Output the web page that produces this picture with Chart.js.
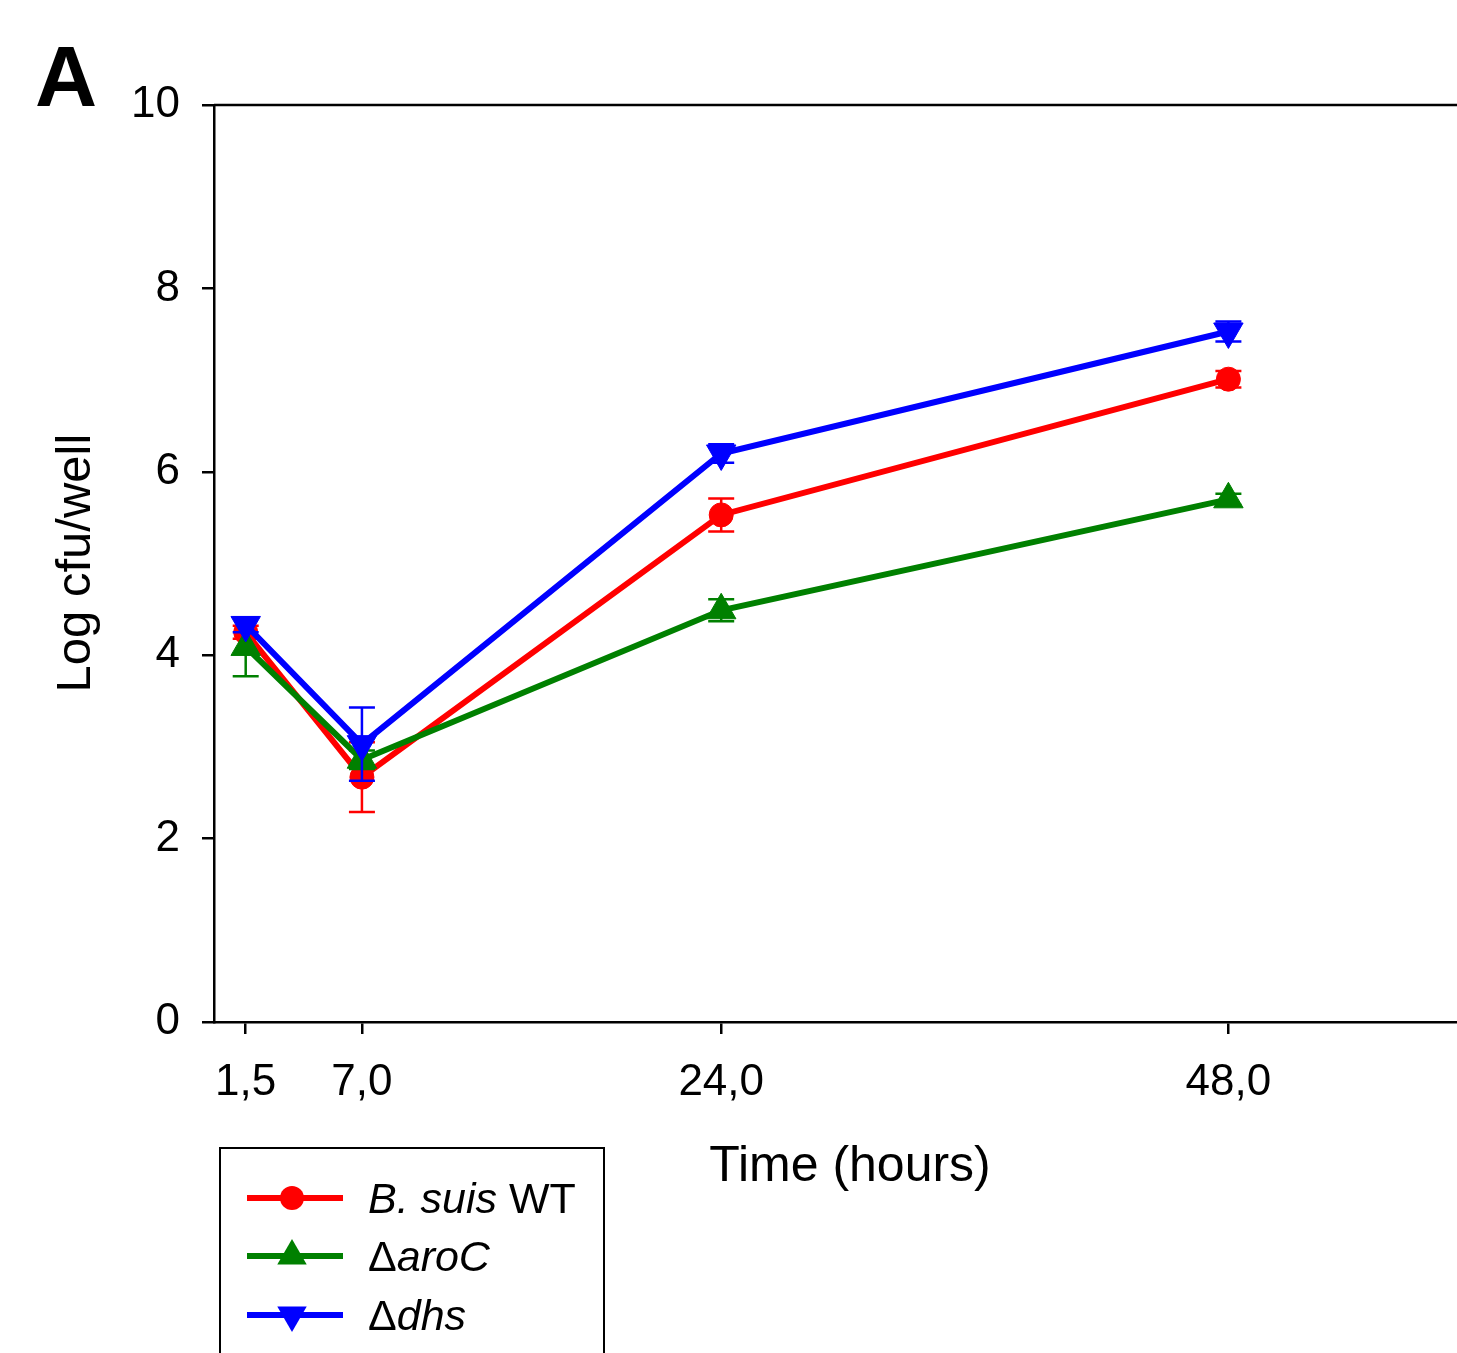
<!DOCTYPE html>
<html>
<head>
<meta charset="utf-8">
<script src="https://cdn.jsdelivr.net/npm/chart.js@4/dist/chart.umd.min.js"></script>
<style>
  html, body { margin: 0; padding: 0; background: #fff; overflow: hidden; }
  #wrap { position: relative; width: 1500px; height: 1353px; }
  canvas { display: block; }
</style>
</head>
<body>
<div id="wrap"><canvas id="c" width="1500" height="1353"></canvas></div>
<script>
// ---- data ----
const timePoints = [1.5, 7.0, 24.0, 48.0];
const xTickValues = [1.5, 7.0, 24.0, 48.0];
const yTickValues = [0, 2, 4, 6, 8, 10];

const wtValues  = [4.25, 2.67, 5.53, 7.01];
const wtErrors  = [0.07, 0.38, 0.18, 0.09];
const aroValues = [4.09, 2.86, 4.49, 5.70];
const aroErrors = [0.32, 0.10, 0.12, 0.06];
const dhsValues = [4.33, 3.03, 6.20, 7.53];
const dhsErrors = [0.08, 0.40, 0.10, 0.11];

const seriesNames = ['B. suis WT', 'ΔaroC', 'Δdhs'];

const FONT = '"Liberation Sans", Arial, sans-serif';

function pts(vals) { return timePoints.map((t, i) => ({ x: t, y: vals[i] })); }

const datasets = [
  { label: seriesNames[0], data: pts(wtValues), errors: wtErrors,
    borderColor: '#ff0000', backgroundColor: '#ff0000',
    pointStyle: 'circle', pointRadius: 12, pointRotation: 0, order: 3 },
  { label: seriesNames[1], data: pts(aroValues), errors: aroErrors,
    borderColor: '#008000', backgroundColor: '#008000',
    pointStyle: 'triangle', pointRadius: 17, pointRotation: 0, order: 2 },
  { label: seriesNames[2], data: pts(dhsValues), errors: dhsErrors,
    borderColor: '#0000ff', backgroundColor: '#0000ff',
    pointStyle: 'triangle', pointRadius: 17, pointRotation: 180, order: 1 }
].map(d => Object.assign(d, {
  borderWidth: 6, pointBorderWidth: 1, pointBorderColor: d.borderColor,
  pointBackgroundColor: d.backgroundColor, tension: 0, fill: false,
  pointHoverRadius: d.pointRadius
}));

// error bars drawn after each dataset
const errorBarPlugin = {
  id: 'errorBars',
  afterDatasetDraw(chart, args) {
    const ds = chart.data.datasets[args.index];
    const xs = chart.scales.x, ys = chart.scales.y;
    const ctx = chart.ctx;
    ctx.save();
    ctx.strokeStyle = ds.borderColor;
    ctx.lineWidth = 2.5;
    ds.data.forEach((p, i) => {
      const e = ds.errors[i];
      const px = xs.getPixelForValue(p.x);
      const top = ys.getPixelForValue(p.y + e);
      const bot = ys.getPixelForValue(p.y - e);
      const cap = 13;
      ctx.beginPath();
      ctx.moveTo(px, top); ctx.lineTo(px, bot);
      ctx.moveTo(px - cap, top); ctx.lineTo(px + cap, top);
      ctx.moveTo(px - cap, bot); ctx.lineTo(px + cap, bot);
      ctx.stroke();
    });
    ctx.restore();
  }
};

function drawMarker(ctx, style, rot, x, y, r, color) {
  ctx.save();
  ctx.fillStyle = color;
  ctx.beginPath();
  if (style === 'circle') {
    ctx.arc(x, y, r, 0, Math.PI * 2);
  } else {
    let a = rot * Math.PI / 180;
    for (let k = 0; k < 3; k++) {
      const px = x + Math.sin(a) * r, py = y - Math.cos(a) * r;
      if (k === 0) ctx.moveTo(px, py); else ctx.lineTo(px, py);
      a += 2 * Math.PI / 3;
    }
    ctx.closePath();
  }
  ctx.fill();
  ctx.restore();
}

// text pieces: [text, italic]
const legendParts = [
  [['B. suis', true], [' WT', false]],
  [['Δ', false], ['aroC', true]],
  [['Δ', false], ['dhs', true]]
];

const decorPlugin = {
  id: 'decor',
  afterDraw(chart) {
    const ctx = chart.ctx;
    const ca = chart.chartArea;
    ctx.save();
    // top frame line
    ctx.strokeStyle = '#000';
    ctx.lineWidth = 2.5;
    ctx.beginPath();
    ctx.moveTo(ca.left, ca.top); ctx.lineTo(chart.width, ca.top);
    ctx.stroke();

    // panel letter
    ctx.fillStyle = '#000';
    ctx.textBaseline = 'alphabetic';
    ctx.textAlign = 'left';
    ctx.font = 'bold 86px ' + FONT;
    ctx.fillText('A', 35, 106);

    // y title
    ctx.save();
    ctx.translate(90, 563);
    ctx.rotate(-Math.PI / 2);
    ctx.textAlign = 'center';
    ctx.font = '49px ' + FONT;
    ctx.fillText('Log cfu/well', 0, 0);
    ctx.restore();

    // x title
    ctx.textAlign = 'center';
    ctx.font = '50px ' + FONT;
    ctx.fillText('Time (hours)', 850, 1181);

    // legend box
    ctx.lineWidth = 2;
    ctx.strokeRect(220, 1148, 384, 260);
    const rowsY = [1198, 1256, 1315];
    chart.data.datasets.forEach((ds, i) => {
      const y = rowsY[i];
      ctx.strokeStyle = ds.borderColor;
      ctx.lineWidth = 6;
      ctx.beginPath();
      ctx.moveTo(247, y); ctx.lineTo(343, y);
      ctx.stroke();
      drawMarker(ctx, ds.pointStyle, ds.pointRotation, 292, y, ds.pointRadius, ds.backgroundColor);
      let tx = 368;
      ctx.fillStyle = '#000';
      ctx.textAlign = 'left';
      legendParts[i].forEach(([t, it]) => {
        ctx.font = (it ? 'italic ' : '') + '43px ' + FONT;
        ctx.fillText(t, tx, y + 15);
        tx += ctx.measureText(t).width;
      });
    });
    ctx.restore();
  }
};

const fmt = v => Number(v).toFixed(1).replace('.', ',');

new Chart(document.getElementById('c'), {
  type: 'line',
  data: { datasets },
  plugins: [errorBarPlugin, decorPlugin],
  options: {
    responsive: false,
    devicePixelRatio: 1,
    animation: false,
    layout: { padding: { left: 0, top: 105, right: 12, bottom: 0 } },
    plugins: { legend: { display: false }, tooltip: { enabled: false } },
    scales: {
      x: {
        type: 'linear', position: 'bottom', min: 0, max: 60,
        afterBuildTicks(scale) { scale.ticks = xTickValues.map(v => ({ value: v })); },
        afterFit(scale) { scale.height = 331; },
        ticks: { callback: v => fmt(v), color: '#000', font: { family: FONT, size: 44 }, padding: 22, maxRotation: 0, autoSkip: false },
        grid: { drawOnChartArea: false, drawTicks: true, tickLength: 12, tickColor: '#000', tickWidth: 2.5, color: '#000', lineWidth: 2.5 },
        border: { display: true, color: '#000', width: 2.5 }
      },
      y: {
        type: 'linear', position: 'left', min: 0, max: 10,
        afterBuildTicks(scale) { scale.ticks = yTickValues.map(v => ({ value: v })); },
        afterFit(scale) { scale.width = 214; },
        ticks: { color: '#000', font: { family: FONT, size: 44 }, padding: 22 },
        grid: { drawOnChartArea: false, drawTicks: true, tickLength: 12, tickColor: '#000', tickWidth: 2.5, color: '#000', lineWidth: 2.5 },
        border: { display: true, color: '#000', width: 2.5 }
      }
    }
  }
});
</script>
</body>
</html>
